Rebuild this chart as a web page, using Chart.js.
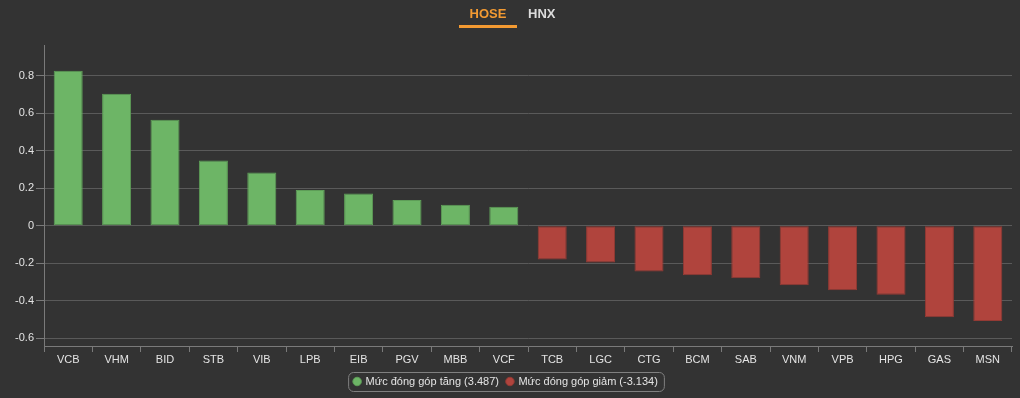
<!DOCTYPE html>
<html>
<head>
<meta charset="utf-8">
<script src="https://cdn.jsdelivr.net/npm/chart.js@4.4.1/dist/chart.umd.min.js"></script>
<style>
  html, body { margin: 0; padding: 0; background: #333333; }
  body { width: 1020px; height: 398px; overflow: hidden; position: relative; font-family: 'Liberation Sans', Arial, sans-serif; }
  .tabs { position: absolute; top: 0; left: 0; width: 1020px; height: 32px; }
  .tab { position: absolute; top: 6px; font-size: 13px; font-weight: bold; }
  .tab.active { left: 459px; width: 58px; text-align: center; color: #f39a32; padding-bottom: 4px; border-bottom: 3px solid #f39a32; }
  .tab.other { left: 528px; color: #dcdcdc; }
  #wrap { position: absolute; top: 0; left: 0; width: 1020px; height: 398px; }
</style>
</head>
<body>
<div id="wrap"><canvas id="chart"></canvas></div>
<div class="tabs">
  <div class="tab active">HOSE</div>
  <div class="tab other">HNX</div>
</div>
<script>
// Tickers, ordered as shown
const LABELS = ['VCB', 'VHM', 'BID', 'STB', 'VIB', 'LPB', 'EIB', 'PGV', 'MBB', 'VCF',
                'TCB', 'LGC', 'CTG', 'BCM', 'SAB', 'VNM', 'VPB', 'HPG', 'GAS', 'MSN'];

// Contribution values
const UP_VALUES = [0.826, 0.704, 0.565, 0.348, 0.284, 0.191, 0.172, 0.137, 0.112, 0.101,
                   null, null, null, null, null, null, null, null, null, null];
const DOWN_VALUES = [null, null, null, null, null, null, null, null, null, null,
                     -0.180, -0.196, -0.245, -0.265, -0.281, -0.318, -0.345, -0.368, -0.488, -0.508];

const Y_TICKS = [-0.6, -0.4, -0.2, 0, 0.2, 0.4, 0.6, 0.8];

const UP_LABEL = 'Mức đóng góp tăng (3.487)';
const DOWN_LABEL = 'Mức đóng góp giảm (-3.134)';

const TEXT = '#e4e4e4';
const GRID = '#5a5a5a';
const AXIS = '#7a7a7a';
const FONT = "'Liberation Sans', Arial, sans-serif";

// rounded box around the legend items
const legendBox = {
    id: 'legendBox',
    afterDraw(chart) {
        const boxes = chart.legend && chart.legend.legendHitBoxes;
        if (!boxes || !boxes.length) return;
        const last = boxes[boxes.length - 1];
        const l = boxes[0].left - 6;
        const r = last.left + last.width + 6;
        const t = boxes[0].top - 4;
        const b = boxes[0].top + boxes[0].height + 4;
        const ctx = chart.ctx;
        ctx.save();
        ctx.strokeStyle = '#808080';
        ctx.lineWidth = 1;
        ctx.beginPath();
        ctx.roundRect(l + 0.5, t + 0.5, r - l, b - t, 5);
        ctx.stroke();
        ctx.restore();
    }
};

new Chart(document.getElementById('chart'), {
    type: 'bar',
    data: {
        labels: LABELS,
        datasets: [
            {
                label: UP_LABEL,
                data: UP_VALUES,
                backgroundColor: '#6db566',
                borderColor: '#5e9e58',
                borderWidth: 1,
                borderSkipped: false,
                grouped: false,
                barPercentage: 0.6,
                categoryPercentage: 1
            },
            {
                label: DOWN_LABEL,
                data: DOWN_VALUES,
                backgroundColor: '#b0443d',
                borderColor: '#943a34',
                borderWidth: 1,
                borderSkipped: false,
                grouped: false,
                barPercentage: 0.6,
                categoryPercentage: 1
            }
        ]
    },
    options: {
        responsive: true,
        maintainAspectRatio: false,
        animation: false,
        layout: { padding: { top: 45, right: 8, left: 0, bottom: 1 } },
        plugins: {
            legend: {
                position: 'bottom',
                labels: {
                    color: TEXT,
                    usePointStyle: true,
                    pointStyle: 'circle',
                    boxWidth: 6,
                    boxHeight: 6,
                    padding: 8,
                    font: { size: 11, family: FONT }
                }
            },
            tooltip: { enabled: false }
        },
        scales: {
            x: {
                grid: { display: true, drawOnChartArea: false, offset: true, color: AXIS, tickLength: 6 },
                border: { color: AXIS },
                ticks: { color: TEXT, padding: 1, font: { size: 11, family: FONT } },
                afterFit: (s) => { s.height = 22; }
            },
            y: {
                min: -0.642,
                max: 0.964,
                afterBuildTicks: (s) => { s.ticks = Y_TICKS.map(v => ({ value: v })); },
                grid: { color: GRID, tickColor: AXIS, tickLength: 8 },
                border: { color: AXIS },
                ticks: {
                    color: TEXT,
                    padding: 2,
                    font: { size: 11, family: FONT },
                    callback: (v) => (Math.round(v * 10) / 10).toString()
                },
                afterFit: (s) => { s.width = 44; }
            }
        }
    },
    plugins: [legendBox]
});
</script>
</body>
</html>
